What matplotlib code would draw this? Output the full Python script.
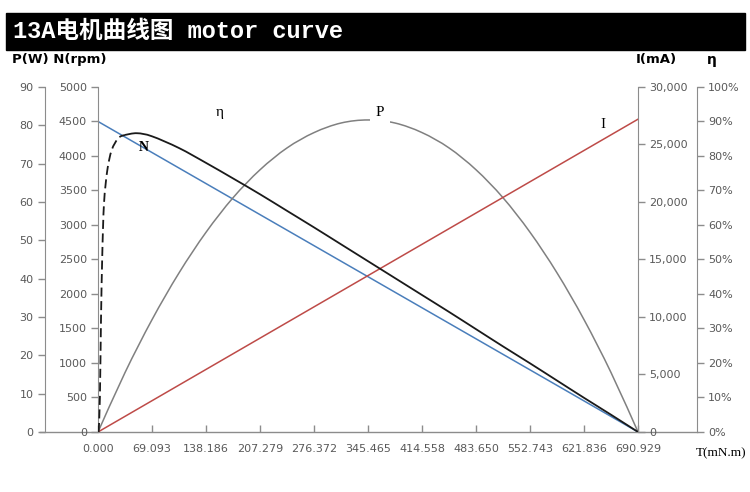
import matplotlib.pyplot as plt
from matplotlib.ticker import FuncFormatter, MultipleLocator
from matplotlib.patches import Rectangle, PathPatch
from matplotlib.lines import Line2D
from matplotlib.path import Path

plt.rcParams['font.family'] = ['DejaVu Sans']

# 横轴 转矩 T (mN.m)
torque_ticks = [0.000, 69.093, 138.186, 207.279, 276.372, 345.465,
                414.558, 483.650, 552.743, 621.836, 690.929]
t_grid = [0.000, 34.546, 69.093, 103.639, 138.186, 172.732, 207.279,
          241.825, 276.372, 310.918, 345.465, 380.011, 414.558, 449.104,
          483.650, 518.197, 552.743, 587.290, 621.836, 656.383, 690.929]

# 输出功率 P (W)
power_w = [0, 15.5, 29.3, 41.5, 52.1, 61.1, 68.4, 74.1, 78.1, 80.6, 81.4,
           80.6, 78.1, 74.1, 68.4, 61.1, 52.1, 41.5, 29.3, 15.5, 0]

# 转速 N (rpm)
speed_t = [0.000, 690.929]
speed_rpm = [4500, 0]

# 电流 I (mA)
current_t = [0.000, 690.929]
current_ma = [0, 27200]

# 效率 η (%) —— 起始段为虚线
eff_dash_t = [0.8, 2.4, 3.8, 5.5, 7.7, 11.9, 17.5, 26.0, 34.5]
eff_dash = [0, 10, 32.5, 51.9, 66.4, 75.9, 81.7, 85.2, 86.1]
eff_t = [34.5, 49.9, 69.093, 103.639, 138.186, 172.732, 207.279, 241.825,
         276.372, 310.918, 345.465, 380.011, 414.558, 449.104, 483.650,
         518.197, 552.743, 587.290, 621.836, 656.383, 690.929]
eff = [86.1, 86.6, 85.7, 82.3, 78.0, 73.5, 68.9, 64.1, 59.3, 54.4, 49.5,
       44.6, 39.7, 34.8, 29.8, 24.8, 19.9, 14.9, 9.9, 5.0, 0]

spine_c = '#8c8c8c'
label_c = '#595959'


def smooth(ax, xs, ys, **kw):
    # Excel 式平滑线：Catmull-Rom 转三次贝塞尔
    n = len(xs)
    pts = list(zip(xs, ys))
    verts = [pts[0]]
    codes = [Path.MOVETO]
    for i in range(n - 1):
        p0 = pts[i - 1] if i > 0 else pts[i]
        p1, p2 = pts[i], pts[i + 1]
        p3 = pts[i + 2] if i + 2 < n else p2
        c1 = (p1[0] + (p2[0] - p0[0]) / 6, p1[1] + (p2[1] - p0[1]) / 6)
        c2 = (p2[0] - (p3[0] - p1[0]) / 6, p2[1] - (p3[1] - p1[1]) / 6)
        verts += [c1, c2, p2]
        codes += [Path.CURVE4] * 3
    ax.add_patch(PathPatch(Path(verts, codes), fill=False, **kw))


fig = plt.figure(figsize=(7.5, 4.92), dpi=100)

# 标题栏
fig.patches.append(Rectangle((6 / 750, 1 - 50 / 492), 739 / 750, 37 / 492,
                             transform=fig.transFigure, color='black'))
fig.text(13 / 750, 1 - 32 / 492, '13A电机曲线图 motor curve', color='white',
         fontsize=17, fontweight='bold', va='center', ha='left',
         family=['Liberation Mono', 'Noto Sans CJK SC'])

ax = fig.add_axes([0.1307, 0.122, 0.72, 0.7012])
ax_p = ax.twinx()
ax_i = ax.twinx()
ax_e = ax.twinx()

ax.plot(speed_t, speed_rpm, color='#4a7ebb', lw=1.1)
smooth(ax_p, t_grid, power_w, edgecolor='#808080', lw=1.1)
ax_i.plot(current_t, current_ma, color='#be4b48', lw=1.1)
smooth(ax_e, eff_dash_t, eff_dash, edgecolor='#1a1a1a', lw=1.3,
       linestyle=(0, (5, 2.5)))
smooth(ax_e, eff_t, eff, edgecolor='#1a1a1a', lw=1.3)

ax.set_xlim(0, 690.929)
ax.set_ylim(0, 5000)
ax_p.set_ylim(0, 90)
ax_i.set_ylim(0, 30000)
ax_e.set_ylim(0, 100)

ax.set_xticks(torque_ticks)
ax.set_xticklabels([f'{t:.3f}' for t in torque_ticks])
ax.yaxis.set_major_locator(MultipleLocator(500))
ax_p.yaxis.set_major_locator(MultipleLocator(10))
ax_i.yaxis.set_major_locator(MultipleLocator(5000))
ax_e.yaxis.set_major_locator(MultipleLocator(10))
ax_i.yaxis.set_major_formatter(FuncFormatter(lambda v, p: f'{v:,.0f}'))
ax_e.yaxis.set_major_formatter(FuncFormatter(lambda v, p: f'{v:.0f}%'))

for a in (ax, ax_p, ax_i, ax_e):
    for s in a.spines.values():
        s.set_visible(False)
        s.set_color(spine_c)
    a.tick_params(axis='y', direction='out', length=5, width=1, color=spine_c,
                  labelsize=8, labelcolor=label_c, pad=3)

ax.spines['left'].set_visible(True)
ax.yaxis.tick_left()

ax_p.yaxis.tick_left()
ax_p.spines['left'].set_visible(True)
ax_p.spines['left'].set_position(('outward', 38.5))

ax_i.yaxis.tick_right()
ax_i.spines['right'].set_visible(True)

ax_e.yaxis.tick_right()
ax_e.spines['right'].set_visible(True)
ax_e.spines['right'].set_position(('outward', 42.5))

ax.tick_params(axis='x', direction='in', length=5, width=1, color=spine_c,
               labelsize=8, labelcolor=label_c, pad=9)

# 底部横线贯穿四个纵轴
ax.add_line(Line2D([-58 / 540, 1 + 59 / 540], [0, 0], transform=ax.transAxes,
                   color=spine_c, lw=1, clip_on=False, zorder=0))

# 曲线标注
serif = ['Liberation Serif', 'DejaVu Serif']
ax_e.text(156, 92.7, 'η', fontsize=11, family=serif, ha='center', va='center')
ax_e.text(361, 92.5, 'P', fontsize=11, family=serif, ha='center', va='center',
          bbox=dict(facecolor='white', edgecolor='none', pad=4))
ax_e.text(646, 89.0, 'I', fontsize=11, family=serif, ha='center', va='center')
ax_e.text(58, 82.6, 'N', fontsize=10, family=serif, fontweight='bold',
          ha='center', va='center')

# 轴标题
fig.text(12 / 750, 1 - 60 / 492, 'P(W) N(rpm)', fontsize=9.5, fontweight='bold',
         va='center', ha='left')
fig.text(636 / 750, 1 - 60 / 492, 'I(mA)', fontsize=9.5, fontweight='bold',
         va='center', ha='left')
fig.text(712 / 750, 1 - 60 / 492, 'η', fontsize=10, fontweight='bold',
         va='center', ha='center')
fig.text(696 / 750, 1 - 453 / 492, 'T(mN.m)', fontsize=9.5, family=serif,
         va='center', ha='left')

fig.savefig('out.png', dpi=100)
